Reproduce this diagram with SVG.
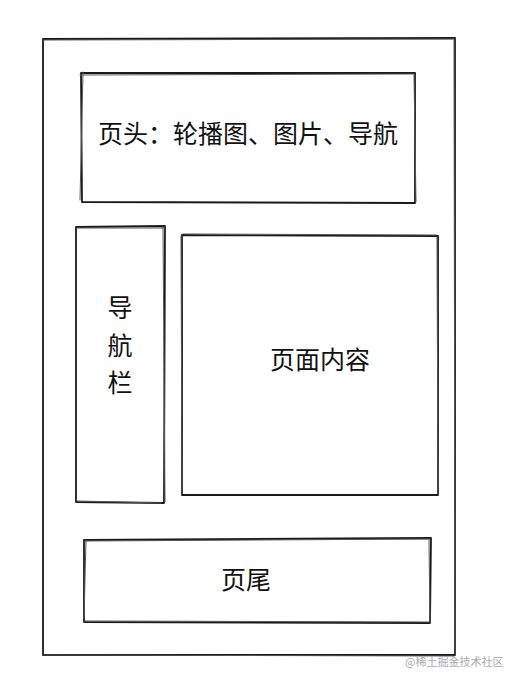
<svg xmlns="http://www.w3.org/2000/svg" width="517" height="686" viewBox="0 0 517 686">
<style>
.s{fill:none;stroke:#1a1a1a;stroke-width:1.8;stroke-linecap:round;stroke-linejoin:round}
.s2{fill:none;stroke:#555;stroke-width:1;stroke-linecap:round}
.t{font-family:"Noto Sans CJK SC","Noto Sans",sans-serif;font-size:25px;fill:#111;text-anchor:middle}
.w{font-family:"Noto Sans CJK SC","Noto Sans",sans-serif;font-size:11px;fill:#aaa}
</style>
<rect width="517" height="686" fill="#fff"/>
<g id="page">
<path class="s" d="M43 39 L455 38 L455 655 L43 655 Z"/>
<path class="s2" d="M44 40 L454 39 M454 40 L455 654 M454 656 L44 655"/>
</g>
<g id="header">
<path class="s" d="M81 73 L415 73 L415 203 L82 202 Z"/>
<path class="s2" d="M80 75 L414 74 M83 72 L80 200 M414 75 L416 202"/>
<text class="t" x="248" y="143">页头：轮播图、图片、导航</text>
</g>
<g id="sidebar">
<path class="s" d="M76 227 L165 226 L164 503 L76 502 Z"/>
<path class="s2" d="M77 228 L165 228 M163 227 L165 502 M77 501 L161 503"/>
<text class="t" x="120" y="317">导</text>
<text class="t" x="120" y="355">航</text>
<text class="t" x="120" y="392">栏</text>
</g>
<g id="content">
<path class="s" d="M182 235 L438 236 L438 495 L182 495 Z"/>
<path class="s2" d="M183 234 L436 235 M181 236 L182 494 M437 237 L438 494"/>
<text class="t" x="320" y="369">页面内容</text>
</g>
<g id="footer">
<path class="s" d="M84 540 L431 538 L430 623 L84 622 Z"/>
<path class="s2" d="M85 541 L430 539 M86 540 L84 618 M429 540 L430 622 M85 621 L430 622"/>
<text class="t" x="246" y="589">页尾</text>
</g>
<g id="connectors"></g>
<text class="w" x="405" y="666">@稀土掘金技术社区</text>
</svg>
